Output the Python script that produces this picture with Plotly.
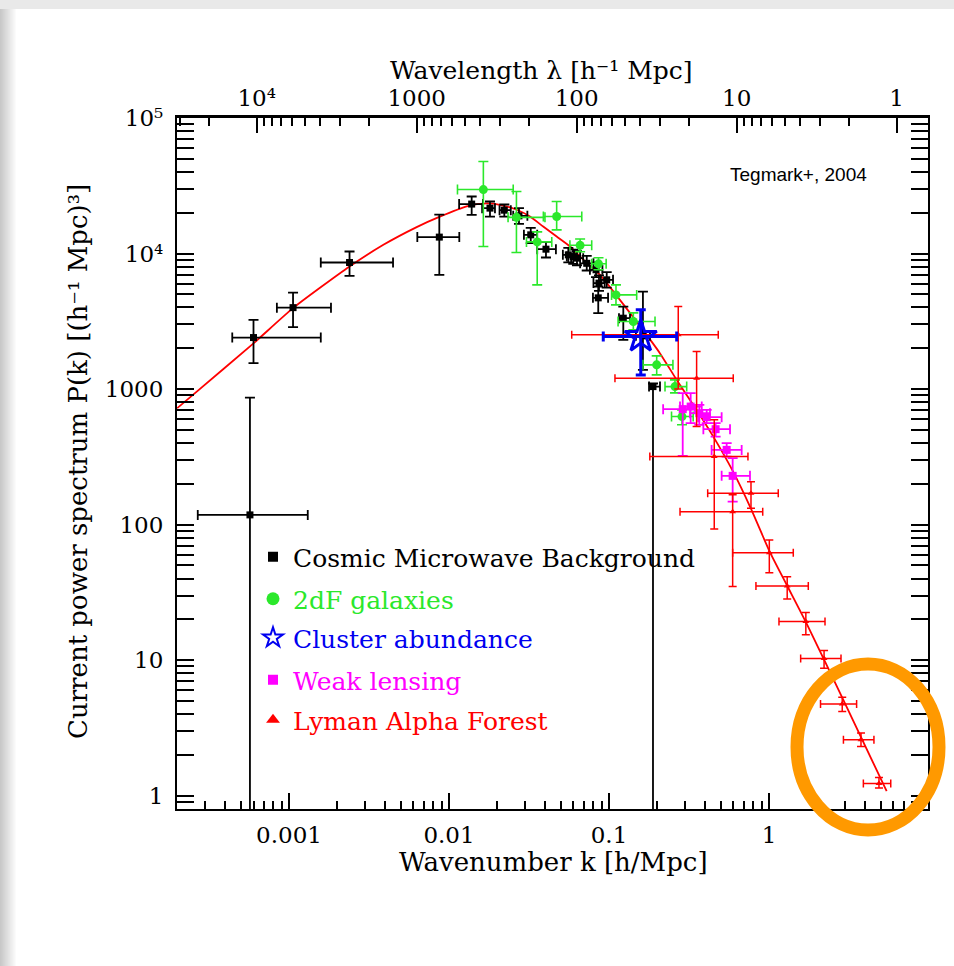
import numpy as np
import plotly.graph_objects as go

# ---------------- data ----------------
# Cosmic Microwave Background
cmb_k    = [5.7e-4, 6.0e-4, 1.06e-3, 2.39e-3, 8.7e-3, 0.01386, 0.01804, 0.02217, 0.02738, 0.03243, 0.04038,
            0.0557, 0.0598, 0.0631, 0.0726, 0.0830, 0.0968, 0.0866, 0.0857, 0.1229, 0.163, 0.1884]
cmb_P    = [118, 2400, 3990, 8590, 13220, 23170, 21630, 20890, 18970, 13740, 10770,
            9780, 9500, 9250, 8470, 7590, 6400, 6050, 4710, 3335, 2470, 1043]
cmb_k_lo = [2.69e-4, 4.42e-4, 8.4e-4, 1.58e-3, 6.34e-3, 0.01157, 0.01611, 0.0207, 0.0252, 0.0294, 0.0356,
            0.0515, 0.0545, 0.058, 0.066, 0.076, 0.089, 0.080, 0.0794, 0.1155, 0.1474, 0.178]
cmb_k_hi = [1.31e-3, 1.58e-3, 1.83e-3, 4.47e-3, 0.0116, 0.0163, 0.01938, 0.02434, 0.0309, 0.0356, 0.0466,
            0.0605, 0.066, 0.069, 0.080, 0.091, 0.106, 0.094, 0.0987, 0.1354, 0.1804, 0.2084]
cmb_P_lo = [1e-3, 1553, 2864, 6840, 6960, 19300, 18750, 18750, 16570, 11930, 9350,
            8600, 8400, 8200, 7500, 6700, 5600, 5300, 3632, 2307, 1386, 1e-3]
cmb_P_hi = [865, 3243, 5152, 10350, 19400, 26360, 24200, 23000, 21630, 15480, 12210,
            11000, 10700, 10400, 9600, 8600, 7300, 6900, 5710, 4064, 5245, 1100]

# 2dF galaxies
gal_k    = [0.0164, 0.0264, 0.0356, 0.0471, 0.066, 0.086, 0.1106, 0.142, 0.1987, 0.2585, 0.286]
gal_P    = [29650, 18500, 12190, 18750, 11500, 8400, 4955, 3150, 1510, 1043, 627]
gal_k_lo = [0.0113, 0.0234, 0.0305, 0.0389, 0.057, 0.078, 0.1038, 0.114, 0.163, 0.224, 0.246]
gal_k_hi = [0.0252, 0.0398, 0.0439, 0.0676, 0.078, 0.096, 0.149, 0.194, 0.251, 0.306, 0.336]
gal_P_lo = [11270, 10170, 5876, 14960, 10300, 7600, 4180, 2735, 1273, 937, 545]
gal_P_hi = [47750, 28700, 14450, 24200, 12800, 9300, 5875, 3650, 1758, 1170, 703]

# Cluster abundance
clu_k, clu_P = [0.158], [2440]
clu_k_lo, clu_k_hi = [0.0921], [0.265]
clu_P_lo, clu_P_hi = [1273], [3843]

# Weak lensing
wl_k    = [0.289, 0.324, 0.367, 0.408, 0.464, 0.544, 0.593]
wl_P    = [711, 743, 664, 621, 506, 356, 229]
wl_k_lo = [0.218, 0.278, 0.321, 0.361, 0.389, 0.438, 0.506]
wl_k_hi = [0.345, 0.380, 0.428, 0.506, 0.571, 0.675, 0.761]
wl_P_lo = [321, 560, 545, 560, 446, 318, 148]
wl_P_hi = [933, 933, 764, 703, 560, 399, 309]

# Lyman Alpha Forest
lya_k    = [0.271, 0.353, 0.455, 0.772, 0.593, 1.005, 1.30, 1.70, 2.21, 2.87, 3.76, 4.87]
lya_P    = [2512, 1203, 318, 170.6, 124.7, 62.1, 35.3, 19.3, 10.3, 4.75, 2.59, 1.23]
lya_k_lo = [0.0585, 0.109, 0.180, 0.414, 0.278, 0.593, 0.829, 1.155, 1.578, 2.10, 2.92, 3.89]
lya_k_hi = [0.482, 0.598, 0.739, 1.143, 0.914, 1.419, 1.761, 2.24, 2.82, 3.53, 4.53, 5.77]
lya_P_lo = [1003, 529, 93, 132, 34.9, 44.2, 28.3, 15.4, 8.71, 4.18, 2.31, 1.14]
lya_P_hi = [4064, 1891, 593, 207.6, 166, 77.1, 41.2, 22.5, 11.8, 5.32, 2.90, 1.36]

# Model curve
mod_k = [2.0e-4, 2.52e-4, 6.0e-4, 1.06e-3, 2.39e-3, 3.89e-3, 6.28e-3, 8.7e-3, 0.0129, 0.0172, 0.0208,
         0.0265, 0.0321, 0.0388, 0.0471, 0.0571, 0.0659, 0.0879, 0.117, 0.156, 0.208, 0.265, 0.353,
         0.449, 0.598, 0.761, 1.014, 1.29, 1.72, 2.91, 5.44]
mod_P = [723, 910, 2175, 3955, 8020, 11600, 15670, 18620, 22280, 23440, 22900,
         21050, 18750, 15820, 13340, 11270, 9500, 6960, 4550, 2925, 1841, 1169, 702,
         446, 245, 136, 62.7, 36.0, 18.6, 5.12, 1.08]

# Axis ticks
k_major = [0.001, 0.01, 0.1, 1, 10]
k_labels = ["0.001", "0.01", "0.1", "1", "10"]
P_major = [1, 10, 100, 1000, 1e4, 1e5]
P_labels = ["1", "10", "100", "1000", "10⁴", "10⁵"]
lam_major = [1e4, 1000, 100, 10, 1]
lam_labels = ["10⁴", "1000", "100", "10", "1"]

legend_names = ["Cosmic Microwave Background", "2dF galaxies", "Cluster abundance",
                "Weak lensing", "Lyman Alpha Forest"]

# ---------------- figure ----------------
FONT = "DejaVu Serif"
BLACK, GREEN, BLUE, MAG, RED = "#000000", "#2be82b", "#0000f0", "#ff00ff", "#ff0000"


def ebars(v, lo, hi):
    v, lo, hi = np.array(v, float), np.array(lo, float), np.array(hi, float)
    return (hi - v).tolist(), (v - lo).tolist()


def series(k, P, klo, khi, Plo, Phi, color, symbol, size, thick, capw, lw=0):
    xp, xm = ebars(k, klo, khi)
    yp, ym = ebars(P, Plo, Phi)
    return go.Scatter(
        x=k, y=P, mode="markers", showlegend=False, hoverinfo="skip",
        marker=dict(color=color, symbol=symbol, size=size, line=dict(width=lw, color=color)),
        error_x=dict(type="data", symmetric=False, array=xp, arrayminus=xm,
                     color=color, thickness=thick, width=capw),
        error_y=dict(type="data", symmetric=False, array=yp, arrayminus=ym,
                     color=color, thickness=thick, width=capw),
    )


fig = go.Figure()

fig.add_trace(go.Scatter(x=mod_k, y=mod_P, mode="lines",
                         line=dict(color=RED, width=1.8, shape="spline", smoothing=0.6),
                         showlegend=False, hoverinfo="skip"))
fig.add_trace(series(cmb_k, cmb_P, cmb_k_lo, cmb_k_hi, cmb_P_lo, cmb_P_hi, BLACK, "square", 7, 1.8, 5))
fig.add_trace(series(gal_k, gal_P, gal_k_lo, gal_k_hi, gal_P_lo, gal_P_hi, GREEN, "circle", 9, 1.6, 5))
fig.add_trace(series(wl_k, wl_P, wl_k_lo, wl_k_hi, wl_P_lo, wl_P_hi, MAG, "square", 8, 1.8, 5))
fig.add_trace(series(lya_k, lya_P, lya_k_lo, lya_k_hi, lya_P_lo, lya_P_hi, RED, "triangle-up", 6, 1.5, 4))
fig.add_trace(series(clu_k, clu_P, clu_k_lo, clu_k_hi, clu_P_lo, clu_P_hi, BLUE, "star-open", 24, 3, 5, lw=3))

# dummy trace to activate the top (wavelength) axis
fig.add_trace(go.Scatter(x=[1], y=[1], xaxis="x2", mode="markers", marker=dict(opacity=0),
                         showlegend=False, hoverinfo="skip"))


def px(x):
    return (x - 177) / 751


def py(y):
    return (809 - y) / 691


# legend entries: one legend per entry so each text has its own colour
leg_styles = [(BLACK, "square", 10, 0), (GREEN, "circle", 13, 0), (BLUE, "star-open", 15, 2),
              (MAG, "square", 10, 0), (RED, "triangle-up", 12, 0)]
leg_y = [557, 599, 638, 680, 720]
legend_layout = {}
for i, (name, (c, sym, sz, lw), yc) in enumerate(zip(legend_names, leg_styles, leg_y)):
    key = "legend" if i == 0 else f"legend{i + 1}"
    fig.add_trace(go.Scatter(x=[None], y=[None], mode="markers", name=name, legend=key,
                             marker=dict(color=c, symbol=sym, size=sz, line=dict(width=lw, color=c))))
    legend_layout[key] = dict(x=px(253), y=py(yc), xanchor="left", yanchor="middle",
                              bgcolor="rgba(0,0,0,0)", font=dict(family=FONT, size=25, color=c),
                              itemwidth=30, itemsizing="trace")

# minor tick values
k_minor = [m * 10.0 ** e for e in range(-4, 1) for m in range(2, 10)]
P_minor = [m * 10.0 ** e for e in range(-1, 5) for m in range(2, 10)]
lam_minor_vals = [m * 10.0 ** e for e in range(0, 5) for m in range(2, 10)]
lam_minor = [2 * np.pi / l for l in lam_minor_vals]
lam_k = [2 * np.pi / l for l in lam_major]

xr = [-3.70, 0.994]
yr = [-0.098, 5.0]
axfont = dict(family=FONT, size=23, color="black")

fig.update_layout(
    width=954, height=966,
    margin=dict(l=177, r=26, t=118, b=157),
    paper_bgcolor="white", plot_bgcolor="white",
    font=dict(family=FONT, color="black"),
    xaxis=dict(type="log", range=xr, showgrid=False, zeroline=False,
               showline=True, linewidth=2.2, linecolor="black", mirror=True,
               ticks="inside", ticklen=16, tickwidth=1.5, tickcolor="black",
               tickmode="array", tickvals=k_major, ticktext=k_labels, tickfont=axfont,
               ticklabelstandoff=4,
               minor=dict(tickmode="array", tickvals=k_minor, ticks="inside", ticklen=8,
                          tickwidth=1.5, tickcolor="black")),
    xaxis2=dict(type="log", range=xr, overlaying="x", side="top", anchor="y", showgrid=False,
                zeroline=False, showline=True, linewidth=2.6, linecolor="black",
                ticks="inside", ticklen=15, tickwidth=1.5, tickcolor="black",
                tickmode="array", tickvals=lam_k, ticktext=lam_labels, tickfont=axfont,
                ticklabelstandoff=0,
                minor=dict(tickmode="array", tickvals=lam_minor, ticks="inside", ticklen=8,
                           tickwidth=1.5, tickcolor="black")),
    yaxis=dict(type="log", range=yr, showgrid=False, zeroline=False,
               showline=True, linewidth=2.2, linecolor="black", mirror="allticks",
               ticks="inside", ticklen=17, tickwidth=1.5, tickcolor="black",
               tickmode="array", tickvals=P_major, ticktext=P_labels, tickfont=axfont,
               ticklabelstandoff=7,
               minor=dict(tickmode="array", tickvals=P_minor, ticks="inside", ticklen=9,
                          tickwidth=1.5, tickcolor="black")),
    **legend_layout,
)

fig.add_annotation(text="Wavenumber k [h/Mpc]", xref="paper", yref="paper", x=px(553), y=py(862),
                   showarrow=False, font=dict(family=FONT, size=26), xanchor="center", yanchor="middle")
fig.add_annotation(text="Wavelength λ [h⁻¹ Mpc]", xref="paper", yref="paper", x=px(541), y=py(70),
                   showarrow=False, font=dict(family=FONT, size=25), xanchor="center", yanchor="middle")
fig.add_annotation(text="Current power spectrum P(k) [(h⁻¹ Mpc)³]",
                   xref="paper", yref="paper", x=px(78), y=py(462), textangle=-90,
                   showarrow=False, font=dict(family=FONT, size=26), xanchor="center", yanchor="middle")
fig.add_annotation(text="Tegmark+, 2004", xref="paper", yref="paper", x=px(798), y=py(175),
                   showarrow=False, font=dict(family="Liberation Sans", size=19), xanchor="center", yanchor="middle")

# page frame shading (slide border)
shapes = [dict(type="rect", xref="paper", yref="paper", x0=px(0), x1=px(954), y0=py(9), y1=py(0),
               fillcolor="#e9e9e9", line=dict(width=0), layer="below")]
for i in range(16):
    g = int(200 + i * 3.4)
    shapes.append(dict(type="rect", xref="paper", yref="paper", x0=px(i), x1=px(i + 1), y0=py(966), y1=py(9),
                       fillcolor=f"rgb({g},{g},{g})", line=dict(width=0), layer="below"))
# orange hand-drawn highlight ring
shapes.append(dict(type="circle", xref="paper", yref="paper", x0=px(797), x1=px(939), y0=py(830), y1=py(664),
                   line=dict(color="#ff9900", width=13), layer="above"))
fig.update_layout(shapes=shapes)

fig.write_html("out.html", config={"displayModeBar": False},
               post_script="document.body.style.margin='0px';document.body.style.overflow='hidden';")
